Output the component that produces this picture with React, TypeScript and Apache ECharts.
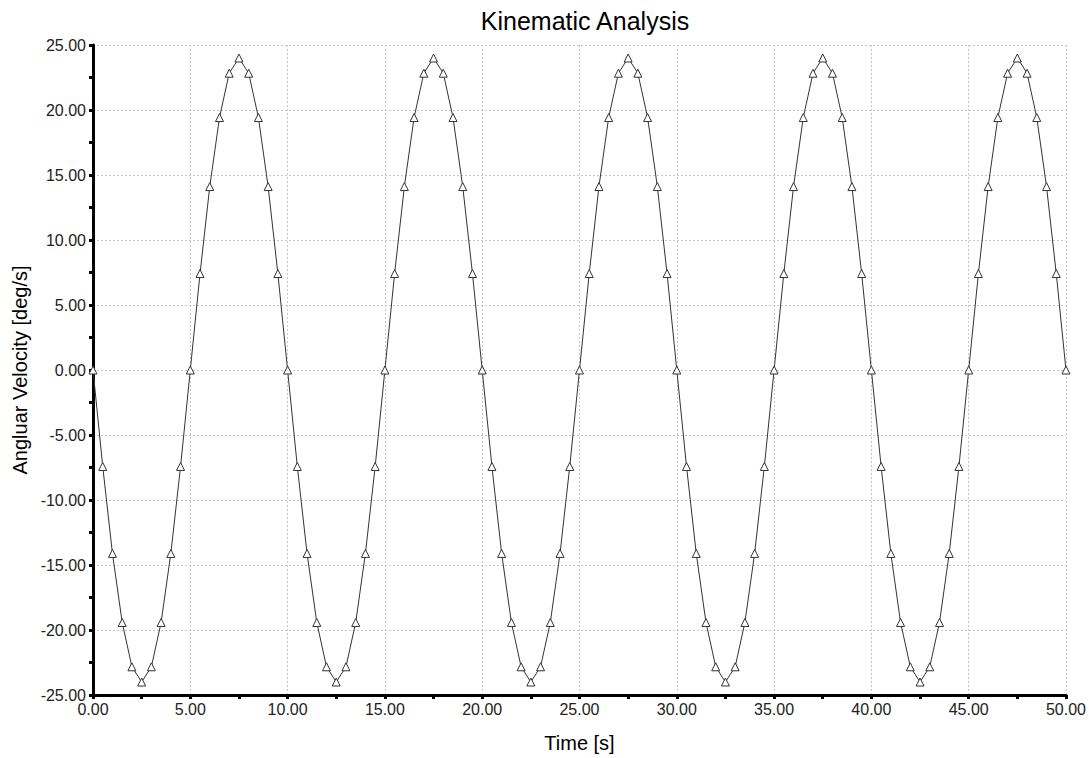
import React, { useEffect, useRef } from "react";
import * as echarts from "echarts";

const title = "Kinematic Analysis";
const xName = "Time [s]";
const yName = "Angluar Velocity [deg/s]";

// time samples [s]
const times: number[] = [
  0, 0.5, 1, 1.5, 2, 2.5, 3, 3.5, 4, 4.5,
  5, 5.5, 6, 6.5, 7, 7.5, 8, 8.5, 9, 9.5,
  10, 10.5, 11, 11.5, 12, 12.5, 13, 13.5, 14, 14.5,
  15, 15.5, 16, 16.5, 17, 17.5, 18, 18.5, 19, 19.5,
  20, 20.5, 21, 21.5, 22, 22.5, 23, 23.5, 24, 24.5,
  25, 25.5, 26, 26.5, 27, 27.5, 28, 28.5, 29, 29.5,
  30, 30.5, 31, 31.5, 32, 32.5, 33, 33.5, 34, 34.5,
  35, 35.5, 36, 36.5, 37, 37.5, 38, 38.5, 39, 39.5,
  40, 40.5, 41, 41.5, 42, 42.5, 43, 43.5, 44, 44.5,
  45, 45.5, 46, 46.5, 47, 47.5, 48, 48.5, 49, 49.5,
  50,
];

// angular velocity [deg/s]
const velocity: number[] = [
  0, -7.42, -14.11, -19.42, -22.83, -24.0, -22.83, -19.42, -14.11, -7.42,
  0, 7.42, 14.11, 19.42, 22.83, 24.0, 22.83, 19.42, 14.11, 7.42,
  0, -7.42, -14.11, -19.42, -22.83, -24.0, -22.83, -19.42, -14.11, -7.42,
  0, 7.42, 14.11, 19.42, 22.83, 24.0, 22.83, 19.42, 14.11, 7.42,
  0, -7.42, -14.11, -19.42, -22.83, -24.0, -22.83, -19.42, -14.11, -7.42,
  0, 7.42, 14.11, 19.42, 22.83, 24.0, 22.83, 19.42, 14.11, 7.42,
  0, -7.42, -14.11, -19.42, -22.83, -24.0, -22.83, -19.42, -14.11, -7.42,
  0, 7.42, 14.11, 19.42, 22.83, 24.0, 22.83, 19.42, 14.11, 7.42,
  0, -7.42, -14.11, -19.42, -22.83, -24.0, -22.83, -19.42, -14.11, -7.42,
  0, 7.42, 14.11, 19.42, 22.83, 24.0, 22.83, 19.42, 14.11, 7.42,
  0,
];

const FONT = "'Liberation Sans', Arial, sans-serif";

export default function App() {
  const ref = useRef<HTMLDivElement>(null);
  useEffect(() => {
    if (!ref.current) return;
    const chart = echarts.init(ref.current, undefined, { renderer: "svg" });
    const axisCommon = {
      axisLine: { show: true, onZero: false, lineStyle: { color: "#000", width: 3 } },
      axisTick: { show: true, inside: false, length: 4, lineStyle: { color: "#000", width: 3 } },
      minorTick: { show: true, splitNumber: 2, length: 4, lineStyle: { color: "#000", width: 3 } },
      splitLine: { show: true, lineStyle: { color: "#c8c8c8", type: [2, 2], width: 1 } },
      axisLabel: {
        color: "#222",
        fontSize: 16,
        fontFamily: FONT,
        formatter: (v: number) => v.toFixed(2),
      },
      nameLocation: "middle" as const,
      nameTextStyle: { color: "#000", fontSize: 20, fontFamily: FONT },
    };
    chart.setOption({
      animation: false,
      backgroundColor: "#fff",
      title: {
        text: title,
        left: 580,
        textAlign: "center",
        top: 3,
        textStyle: { color: "#000", fontSize: 25, fontWeight: "normal", fontFamily: FONT },
      },
      grid: { left: 93, right: 22, top: 45, bottom: 61, containLabel: false },
      xAxis: {
        ...axisCommon,
        type: "value",
        min: 0,
        max: 50,
        interval: 5,
        name: xName,
        nameGap: 38,
        axisLabel: { ...axisCommon.axisLabel, margin: 6 },
      },
      yAxis: {
        ...axisCommon,
        type: "value",
        min: -25,
        max: 25,
        interval: 5,
        name: yName,
        nameGap: 63,
        axisLabel: { ...axisCommon.axisLabel, margin: 7 },
      },
      series: [
        {
          type: "line",
          data: times.map((t, i) => [t, velocity[i]]),
          symbol: "triangle",
          symbolSize: 8,
          showAllSymbol: true,
          lineStyle: { color: "#333", width: 1 },
          itemStyle: { color: "#fff", borderColor: "#333", borderWidth: 1 },
          z: 3,
        },
      ],
    });
    return () => chart.dispose();
  }, []);
  return (
    <div
      ref={ref}
      style={{ position: "absolute", left: 0, top: 0, width: 1089, height: 758 }}
    />
  );
}
